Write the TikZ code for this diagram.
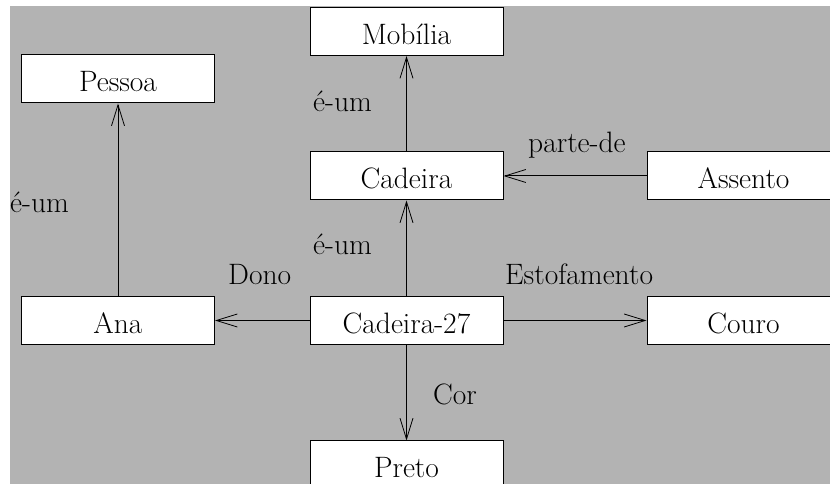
\documentclass[tikz,border=0pt]{standalone}
\usepackage{fontspec}
\usetikzlibrary{arrows.meta}
\definecolor{bggray}{RGB}{179,179,179}
\begin{document}
\begin{tikzpicture}[x=1pt,y=1pt,
  box/.style={draw,line width=1pt,fill=white,minimum width=193pt,minimum height=48pt,inner sep=0pt,text height=26pt,text depth=0pt,font=\fontsize{29.5}{35}\selectfont},
  lbl/.style={anchor=base west,inner sep=0pt,font=\fontsize{29.5}{35}\selectfont},
  conn/.style={line width=1pt,-{Straight Barb[length=21pt,width=13pt,line width=0.8pt]}}]
\useasboundingbox (0,0) rectangle (830,484);
\clip (0,0) rectangle (830,484);
\fill[bggray] (10,0) rectangle (830,478);
\node[box] (pessoa) at (118,405) {Pessoa};
\node[box] (mobilia) at (406.5,452.5) {Mobília};
\node[box] (cadeira) at (406.5,308) {Cadeira};
\node[box] (assento) at (743.5,308) {Assento};
\node[box] (ana) at (118,163.5) {Ana};
\node[box] (c27) at (406.5,163.5) {Cadeira-27};
\node[box] (couro) at (743.5,163.5) {Couro};
\node[box] (preto) at (406.5,19) {Preto};
\draw[conn] (ana.north) -- (pessoa.south);
\draw[conn] (cadeira.north) -- (mobilia.south);
\draw[conn] (c27.north) -- (cadeira.south);
\draw[conn] (assento.west) -- (cadeira.east);
\draw[conn] (c27.west) -- (ana.east);
\draw[conn] (c27.east) -- (couro.west);
\draw[conn] (c27.south) -- (preto.north);
\node[lbl] (l1) at (10,271) {é-um};
\node[lbl] (l2) at (313,372) {é-um};
\node[lbl] (l3) at (313,229) {é-um};
\node[lbl] (l4) at (528,331) {parte-de};
\node[lbl] (l5) at (228,199) {Dono};
\node[lbl] (l6) at (505,199) {Estofamento};
\node[lbl] (l7) at (433,79) {Cor};
\end{tikzpicture}
\end{document}
